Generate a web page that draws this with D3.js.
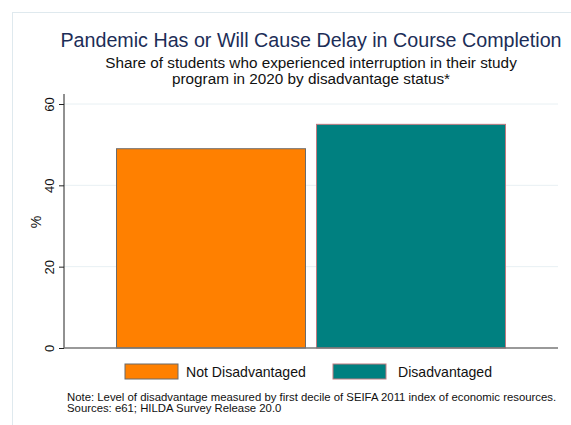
<!DOCTYPE html>
<html><head><meta charset="utf-8">
<script src="https://cdn.jsdelivr.net/npm/d3@7"></script>
<style>body{margin:0;background:#fff}svg{display:block;font-family:"Liberation Sans",Arial,Helvetica,sans-serif}</style>
</head><body>
<script>
const categories = ["Not Disadvantaged", "Disadvantaged"];
const values = [49, 55];
const colors = ["#FF8000", "#008080"];
const outlines = ["#6b6b6b", "#c07a80"];
const yTicks = [0, 20, 40, 60];

(function(){
const W = 571, H = 425;
const svg = d3.select("body").append("svg").attr("width", W).attr("height", H);
svg.append("rect").attr("x", 12.5).attr("y", 12.5).attr("width", W).attr("height", H)
  .attr("fill", "#fff").attr("stroke", "#dfe9ee");

const pL = 64, pR = 558, pT = 104, pB = 348;
const y = d3.scaleLinear().domain([0, 60]).range([pB, pT]);
const x = d3.scaleBand().domain(categories).range([pL, pR]).paddingInner(0.055).paddingOuter(0.2625);

// gridlines
svg.append("g").selectAll("line").data(yTicks.filter(d => d > 0)).join("line")
  .attr("x1", pL).attr("x2", pR).attr("y1", d => y(d)).attr("y2", d => y(d))
  .attr("stroke", "#e8f0f3").attr("stroke-width", 1);

// bars
svg.append("g").selectAll("rect").data(categories).join("rect")
  .attr("x", d => x(d)).attr("width", x.bandwidth())
  .attr("y", (d, i) => y(values[i])).attr("height", (d, i) => y(0) - y(values[i]))
  .attr("fill", (d, i) => colors[i]).attr("stroke", (d, i) => outlines[i]).attr("stroke-width", 1);

// y axis
const yAxis = d3.axisLeft(y).tickValues(yTicks).tickSize(5).tickPadding(3);
const ga = svg.append("g").attr("transform", `translate(${pL},0)`).call(yAxis);
ga.select(".domain").attr("stroke", "#222").attr("d", `M0,${pB}V${pT - 10}`);
ga.selectAll(".tick line").attr("stroke", "#222");
ga.selectAll(".tick text").attr("font-size", 13).attr("fill", "#111")
  .attr("text-anchor", "middle")
  .attr("transform", "translate(-10,0) rotate(-90)").attr("x", 0).attr("y", 0).attr("dy", 0);

// baseline
svg.append("line").attr("x1", pL).attr("x2", pR).attr("y1", pB).attr("y2", pB)
  .attr("stroke", "#777").attr("stroke-width", 1.5);

// y label
svg.append("text").attr("transform", `translate(41,${(pT + pB) / 2 - 4}) rotate(-90)`)
  .attr("text-anchor", "middle").attr("font-size", 14).attr("fill", "#111").text("%");

// titles
const cx = (pL + pR) / 2;
svg.append("text").attr("x", cx).attr("y", 47).attr("text-anchor", "middle")
  .attr("font-size", 19.7).attr("fill", "#1c2d57").text("Pandemic Has or Will Cause Delay in Course Completion");
svg.append("text").attr("x", cx).attr("y", 68).attr("text-anchor", "middle")
  .attr("font-size", 15.3).attr("fill", "#111").text("Share of students who experienced interruption in their study");
svg.append("text").attr("x", cx).attr("y", 84).attr("text-anchor", "middle")
  .attr("font-size", 15.3).attr("fill", "#111").text("program in 2020 by disadvantage status*");

// legend
const legX = [125, 333], legTextX = [186, 398];
const lg = svg.append("g").selectAll("g").data(categories).join("g");
lg.append("rect").attr("x", (d, i) => legX[i]).attr("y", 364).attr("width", 53).attr("height", 15)
  .attr("fill", (d, i) => colors[i]).attr("stroke", (d, i) => outlines[i]);
lg.append("text").attr("x", (d, i) => legTextX[i]).attr("y", 377).attr("font-size", 14.1).attr("fill", "#111").text(d => d);

// note
svg.append("text").attr("x", 67).attr("y", 401).attr("font-size", 11.35).attr("fill", "#111")
  .text("Note: Level of disadvantage measured by first decile of SEIFA 2011 index of economic resources.");
svg.append("text").attr("x", 67).attr("y", 412).attr("font-size", 11.35).attr("fill", "#111")
  .text("Sources: e61; HILDA Survey Release 20.0");
})();
</script>
</body></html>
